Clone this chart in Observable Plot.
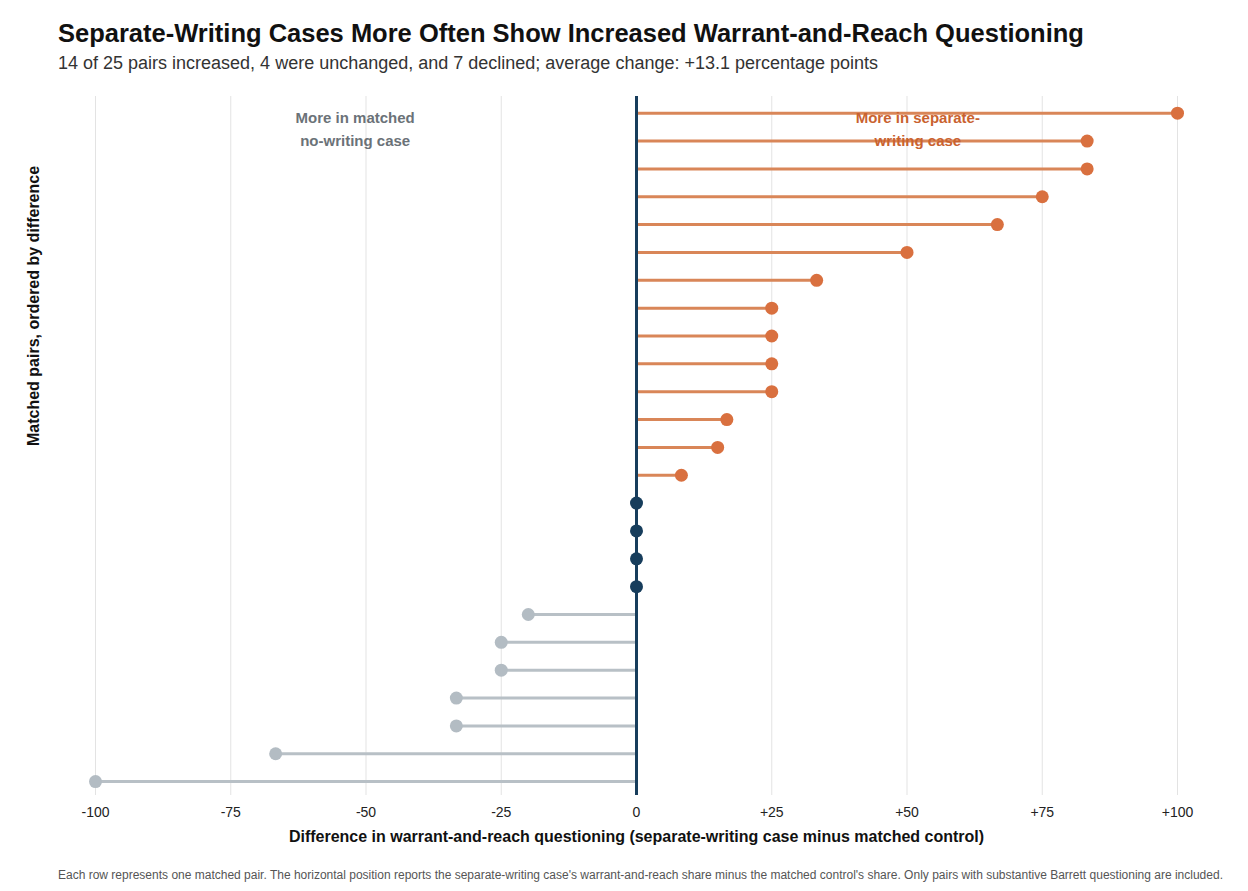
<!DOCTYPE html>
<html><head><meta charset="utf-8">
<script src="https://cdn.jsdelivr.net/npm/d3@7"></script>
<script src="https://cdn.jsdelivr.net/npm/@observablehq/plot@0.6"></script>
<style>
body{margin:0;background:#fff;font-family:Arial,"Liberation Sans",sans-serif;}
#wrap{width:1248px;overflow:hidden;}
h1{margin:0;padding:19px 0 0 58px;font-size:25.5px;font-weight:bold;color:#111;height:31px;}
.sub{padding:3px 0 0 58px;font-size:18px;color:#333;height:31px;}
.foot{padding:0 0 0 58px;font-size:12px;color:#555;white-space:nowrap;margin-top:13px;}
</style></head><body>
<div id="wrap">
<h1>Separate-Writing Cases More Often Show Increased Warrant-and-Reach Questioning</h1>
<div class="sub">14 of 25 pairs increased, 4 were unchanged, and 7 declined; average change: +13.1 percentage points</div>
<div id="chart"></div>
<div class="foot">Each row represents one matched pair. The horizontal position reports the separate-writing case's warrant-and-reach share minus the matched control's share. Only pairs with substantive Barrett questioning are included.</div>
</div>
<script>
const differences = [100, 83.3, 83.3, 75, 66.7, 50, 33.3, 25, 25, 25, 25, 16.7, 15, 8.3, 0, 0, 0, 0, -20, -25, -25, -33.3, -33.3, -66.7, -100];
const xTicks = [-100, -75, -50, -25, 0, 25, 50, 75, 100];
const data = differences.map((d, i) => ({rank: i + 1, diff: d, dir: d > 0 ? "up" : d < 0 ? "down" : "same"}));
const dotColor = {up: "#d9703f", down: "#b3bcc3", same: "#173d5c"};
const lineColor = {up: "#d98658", down: "#b8c0c6", same: "#173d5c"};
const W = 1248, H = 771, mt = 12, mb = 60;
const chart = Plot.plot({
  width: W, height: H, marginLeft: 95, marginRight: 71, marginTop: mt, marginBottom: mb,
  style: {fontFamily: "Arial, 'Liberation Sans', sans-serif", fontSize: "14px", color: "#222"},
  x: {domain: [-100, 100]},
  y: {domain: [0.4, 25.5], axis: null, reverse: true},
  marks: [
    Plot.ruleX(xTicks, {stroke: "#e3e3e3", strokeWidth: 1}),
    Plot.axisX(xTicks, {tickSize: 0, tickPadding: 12, fontSize: 14, tickFormat: d => d > 0 ? "+" + d : String(d),
      label: "Difference in warrant-and-reach questioning (separate-writing case minus matched control)",
      labelAnchor: "center", labelArrow: "none", labelOffset: 46}),
    Plot.ruleY(data.filter(d => d.diff !== 0), {y: "rank", x1: 0, x2: "diff", stroke: d => lineColor[d.dir], strokeWidth: 3}),
    Plot.ruleX([0], {stroke: "#173d5c", strokeWidth: 3}),
    Plot.dot(data, {x: "diff", y: "rank", r: 6.5, fill: d => dotColor[d.dir]}),
    Plot.text(["More in matched\nno-writing case"], {x: -52, y: 1.5, fill: "#6b7278", fontWeight: "bold", fontSize: 15, lineHeight: 1.5}),
    Plot.text(["More in separate-\nwriting case"], {x: 52, y: 1.5, fill: "#c9622f", fontWeight: "bold", fontSize: 15, lineHeight: 1.5}),
    Plot.text(["Matched pairs, ordered by difference"], {frameAnchor: "left", dx: -62, rotate: -90, fontWeight: "bold", fontSize: 16, fill: "#111"})
  ]
});
chart.querySelectorAll("g[aria-label='x-axis label']").forEach(e => {e.setAttribute("font-weight","bold"); e.setAttribute("font-size","16"); e.setAttribute("fill","#111");});
document.getElementById("chart").appendChild(chart);
</script>
</body></html>
